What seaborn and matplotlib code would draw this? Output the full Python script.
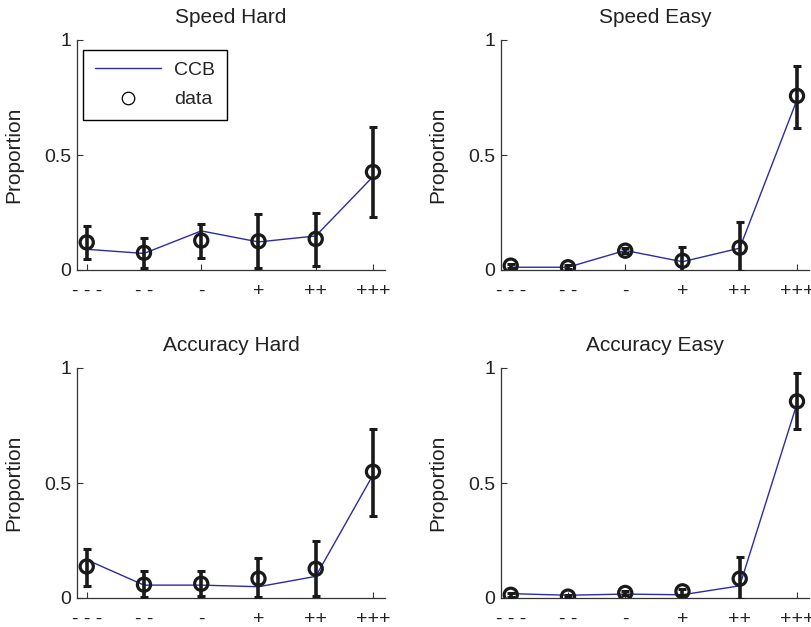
import numpy as np
import pandas as pd
import matplotlib
matplotlib.use('Agg')
import matplotlib.pyplot as plt
from matplotlib.lines import Line2D
import seaborn as sns

# bins of the x axis and their tick labels
bins = [1, 2, 3, 4, 5, 6]
bin_labels = ['- - -', '- -', '-', '+', '++', '+++']

titles = ['Speed Hard', 'Speed Easy', 'Accuracy Hard', 'Accuracy Easy']

# observed proportions (circles) with lower / upper error bounds
data_speed_hard = [0.12, 0.075, 0.128, 0.125, 0.135, 0.426]
low_speed_hard = [0.046, 0.007, 0.054, 0.010, 0.019, 0.232]
high_speed_hard = [0.190, 0.138, 0.200, 0.243, 0.250, 0.622]

data_speed_easy = [0.019, 0.012, 0.084, 0.040, 0.097, 0.757]
low_speed_easy = [0.010, 0.004, 0.075, -0.007, -0.005, 0.619]
high_speed_easy = [0.028, 0.020, 0.094, 0.100, 0.210, 0.887]

data_acc_hard = [0.137, 0.058, 0.062, 0.084, 0.127, 0.549]
low_acc_hard = [0.053, 0.004, 0.007, 0.004, 0.010, 0.357]
high_acc_hard = [0.214, 0.116, 0.116, 0.172, 0.250, 0.736]

data_acc_easy = [0.014, 0.006, 0.022, 0.029, 0.084, 0.855]
low_acc_easy = [0.006, 0.001, 0.014, 0.015, -0.005, 0.733]
high_acc_easy = [0.022, 0.011, 0.030, 0.040, 0.180, 0.978]

# CCB model predictions (blue line)
ccb_speed_hard = [0.090, 0.072, 0.170, 0.122, 0.148, 0.406]
ccb_speed_easy = [0.012, 0.012, 0.085, 0.036, 0.095, 0.740]
ccb_acc_hard = [0.166, 0.056, 0.056, 0.049, 0.094, 0.535]
ccb_acc_easy = [0.019, 0.012, 0.017, 0.014, 0.053, 0.845]

panels = [
    (data_speed_hard, low_speed_hard, high_speed_hard, ccb_speed_hard),
    (data_speed_easy, low_speed_easy, high_speed_easy, ccb_speed_easy),
    (data_acc_hard, low_acc_hard, high_acc_hard, ccb_acc_hard),
    (data_acc_easy, low_acc_easy, high_acc_easy, ccb_acc_easy),
]

sns.set_theme(style='ticks')
plt.rcParams['font.family'] = ['Liberation Sans', 'DejaVu Sans']

blue = '#2b2ba6'
axis_col = '#333333'

fig = plt.figure(figsize=(8.12, 6.27), dpi=100)
w, h = 308 / 812, 230 / 627
positions = [
    (77 / 812, 1 - 270 / 627),
    (501 / 812, 1 - 270 / 627),
    (77 / 812, 1 - 598 / 627),
    (501 / 812, 1 - 598 / 627),
]

for i, (title, (obs, lo, hi, ccb)) in enumerate(zip(titles, panels)):
    ax = fig.add_axes([positions[i][0], positions[i][1], w, h])
    df = pd.DataFrame({'bin': bins, 'obs': obs, 'lo': lo, 'hi': hi, 'ccb': ccb})

    sns.lineplot(data=df, x='bin', y='ccb', ax=ax, color=blue, lw=1.0, zorder=2)
    yerr = np.vstack([df['obs'] - df['lo'], df['hi'] - df['obs']])
    ax.errorbar(df['bin'], df['obs'], yerr=yerr, fmt='none', ecolor='#1a1a1a',
                elinewidth=2.6, capsize=3, capthick=2.2, zorder=3)
    sns.scatterplot(data=df, x='bin', y='obs', ax=ax, marker='o', s=90,
                    facecolor='none', edgecolor='#1a1a1a', linewidth=2.3, zorder=4)

    ax.set_xlim(0.83, 6.21)
    ax.set_ylim(0, 1)
    ax.set_xticks(bins)
    ax.set_xticklabels(bin_labels, fontsize=14)
    ax.set_yticks([0, 0.5, 1])
    ax.set_yticklabels(['0', '0.5', '1'], fontsize=14)
    ax.tick_params(direction='in', length=4, width=0.8, color=axis_col,
                   labelcolor='#222222')
    ax.tick_params(axis='x', pad=9)
    ax.tick_params(axis='y', pad=4)
    ax.set_xlabel('')
    ax.set_ylabel('Proportion', fontsize=15, color='#222222')
    ax.yaxis.set_label_coords(-0.175, 0.5)
    ax.set_title(title, fontsize=15, pad=12, color='#222222')
    for side in ['top', 'right']:
        ax.spines[side].set_visible(False)
    for side in ['left', 'bottom']:
        ax.spines[side].set_color(axis_col)
        ax.spines[side].set_linewidth(0.9)

    if i == 0:
        handles = [Line2D([], [], color=blue, lw=1.0),
                   Line2D([], [], ls='none', marker='o', markersize=9,
                          markerfacecolor='none', markeredgecolor='black',
                          markeredgewidth=0.9)]
        leg = ax.legend(handles, ['CCB', 'data'], loc='upper left',
                        bbox_to_anchor=(0.019, 0.957), fontsize=14,
                        handlelength=3.4, frameon=True, fancybox=False,
                        edgecolor='black', framealpha=1, borderaxespad=0,
                        labelspacing=0.6, handletextpad=0.7, borderpad=0.6)
        leg.get_frame().set_linewidth(1.0)

fig.savefig('out.png', dpi=100)
